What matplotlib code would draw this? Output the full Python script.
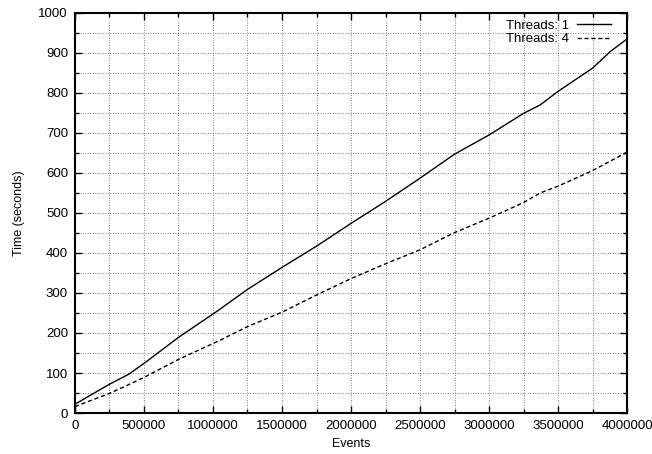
import matplotlib
matplotlib.use("Agg")
import matplotlib.pyplot as plt
from matplotlib.ticker import MultipleLocator, FuncFormatter

# events processed vs wall time
events = [0, 250000, 390000, 500000, 750000, 1040000, 1250000, 1500000, 1750000,
          2000000, 2250000, 2500000, 2750000, 3000000, 3250000, 3370000, 3500000,
          3750000, 3880000, 4000000]
time_1 = [22, 72, 97, 124, 189, 257, 309, 364, 417, 474, 529, 587, 647, 695,
          749, 770, 804, 862, 904, 935]
time_4 = [16, 49, 71, 89, 134, 180, 216, 252, 295, 336, 373, 408, 451, 487,
          526, 550, 567, 606, 630, 652]

plt.rcParams['font.family'] = ['Liberation Sans', 'DejaVu Sans']

fig = plt.figure(figsize=(6.52, 4.54), dpi=100)
ax = fig.add_axes([0.115, 0.0903, 0.8467, 0.8811])

ax.plot(events, time_1, color='black', lw=1.0, label='Threads: 1')
ax.plot(events, time_4, color='black', lw=1.0, dashes=(3, 2), label='Threads: 4')

ax.set_xlim(0, 4000000)
ax.set_ylim(0, 1000)
ax.xaxis.set_major_locator(MultipleLocator(500000))
ax.xaxis.set_minor_locator(MultipleLocator(250000))
ax.yaxis.set_major_locator(MultipleLocator(100))
ax.yaxis.set_minor_locator(MultipleLocator(50))
ax.xaxis.set_major_formatter(FuncFormatter(lambda v, p: f"{int(round(v))}"))

ax.grid(which='both', color='#555555', linestyle=(0, (1, 2)), lw=0.6)
ax.tick_params(which='both', direction='in', top=True, right=True, labelsize=9.5)
ax.tick_params(which='major', length=5, width=1, pad=5)
ax.tick_params(which='minor', length=3, width=1)
for s in ax.spines.values():
    s.set_linewidth(1.5)

ax.set_xlabel('Events', fontsize=9, labelpad=4)
ax.set_ylabel('Time (seconds)', fontsize=9, labelpad=10)

ax.legend(loc='upper right', bbox_to_anchor=(0.981, 0.997), borderaxespad=0,
          frameon=False, markerfirst=False, fontsize=9.5,
          handlelength=2.6, labelspacing=0.1, handletextpad=0.6)

fig.savefig('out.png', dpi=100)
